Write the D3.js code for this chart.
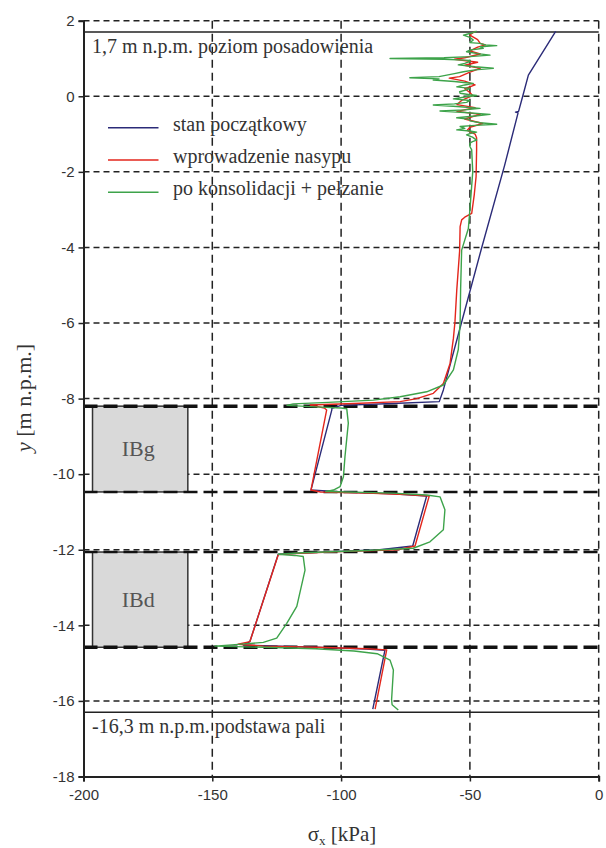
<!DOCTYPE html>
<html><head><meta charset="utf-8">
<script src="https://cdn.jsdelivr.net/npm/d3@7"></script>
<style>
html,body{margin:0;padding:0;background:#fff;}
svg{display:block;}
</style></head>
<body>
<svg id="chart" width="606" height="848"></svg>
<script>
// ---- data ----
const xTicks = [-200, -150, -100, -50, 0];
const yTicks = [2, 0, -2, -4, -6, -8, -10, -12, -14, -16, -18];
const seriesNames = ["stan początkowy", "wprowadzenie nasypu", "po konsolidacji + pełzanie"];
const seriesColors = ["#2b2b78", "#e3261c", "#3da34a"];
const foundationLevel = 1.7;
const pileBaseLevel = -16.3;
const layerBounds = [-8.2, -10.47, -12.06, -14.58];
const layerBoundWidth = [3.5, 2.5, 2.5, 3.5];
const layerNames = ["IBg", "IBd"];
const layerTop = [-8.2, -12.06];
const layerBottom = [-10.47, -14.58];
const layerBoxSigma = [-196.5, -159.5];

// [depth (m n.p.m.), sigma_x (kPa)]
const blueData = [
  [1.72,-16.7],[0.56,-27.3],[0.0,-29.5],[-0.40,-31.1],[-0.42,-32.3],[-0.44,-31.3],
  [-1.82,-36.5],[-4.0,-45.4],[-6.0,-53.3],[-7.77,-60.3],[-8.08,-61.9],
  [-8.13,-80],[-8.18,-100],[-8.26,-103.6],[-8.3,-103.6],[-10.42,-111.7],
  [-10.47,-100],[-10.52,-80],[-10.58,-66.8],[-11.9,-72.2],[-12.0,-85],[-12.07,-110],
  [-12.12,-124.4],[-14.43,-135.4],[-14.52,-138],[-14.58,-110],[-14.63,-90],
  [-14.66,-83.0],[-16.22,-87.7]
];
const redData = [
  [1.72,-48],[1.62,-50],[1.50,-47],[1.40,-46],[1.36,-44],[1.30,-47],[1.20,-50],
  [1.12,-46],[1.02,-52],[0.98,-56],[0.90,-47],[0.82,-52],[0.74,-46],[0.64,-50],
  [0.52,-54],[0.48,-58],[0.40,-52],[0.30,-48],[0.20,-52],[0.10,-50],[0.02,-49],
  [-0.10,-53],[-0.22,-55],[-0.30,-48],[-0.40,-55],[-0.48,-46],[-0.60,-52],
  [-0.72,-45],[-0.82,-50],[-0.90,-51],[-1.0,-48],[-1.1,-47.4],[-1.42,-47.4],
  [-2.13,-47.6],[-2.6,-48.3],[-3.1,-49.3],[-3.2,-52],[-3.27,-53.2],[-3.45,-53.8],
  [-4.1,-54.0],[-5.13,-55.1],[-5.97,-55.8],[-6.4,-56.4],[-7.07,-57.7],[-7.6,-60.3],
  [-7.86,-64.2],[-8.0,-70.6],[-8.08,-77.1],[-8.13,-95],[-8.17,-112],[-8.2,-110],
  [-8.25,-106.5],[-8.3,-105.6],[-10.42,-111.7],[-10.47,-108],[-10.5,-90],
  [-10.54,-75],[-10.58,-65.8],[-11.9,-71.3],[-12.0,-78],[-12.05,-100],[-12.1,-118],
  [-12.13,-124.4],[-14.43,-135.4],[-14.5,-140],[-14.55,-130],[-14.58,-110],
  [-14.62,-90],[-14.65,-82.3],[-16.22,-86.8]
];
const greenData = [
  [1.72,-47.4],[1.66,-50],[1.62,-52.5],[1.56,-50],[1.49,-48.7],[1.42,-50],[1.40,-46.1],
  [1.36,-44],[1.34,-39.6],[1.31,-46],[1.27,-44.8],[1.22,-50],[1.18,-51.3],[1.13,-47],
  [1.09,-42.2],[1.05,-50],[1.02,-60],[1.00,-81],[0.98,-60],[0.95,-50],[0.92,-50],
  [0.87,-52],[0.83,-54.5],[0.78,-48],[0.74,-40.9],[0.70,-48],[0.65,-52.5],[0.60,-56],
  [0.56,-59],[0.52,-62],[0.49,-73.3],[0.46,-62],[0.43,-64.2],[0.39,-56],[0.34,-48.7],
  [0.30,-52],[0.25,-55.1],[0.21,-50],[0.17,-51.3],[0.12,-54],[0.08,-53.8],[0.04,-50],
  [0.02,-47.4],[-0.02,-52],[-0.07,-56.4],[-0.11,-50],[-0.16,-51.3],[-0.20,-56],
  [-0.23,-64.2],[-0.27,-55],[-0.32,-46.1],[-0.36,-52],[-0.39,-61.6],[-0.43,-52],
  [-0.48,-42.2],[-0.52,-48],[-0.57,-55.1],[-0.61,-50],[-0.65,-50],[-0.70,-46],
  [-0.74,-39.6],[-0.77,-48],[-0.80,-53.8],[-0.85,-52],[-0.89,-55.1],[-0.92,-50],
  [-0.95,-47.4],[-0.99,-50],[-1.02,-51.3],[-1.08,-49],[-1.16,-47.4],[-1.20,-49],
  [-1.24,-50],[-1.33,-50],[-1.42,-49.3],[-2.0,-48.9],[-3.0,-50],[-3.5,-50.6],
  [-4.07,-53.2],[-5.1,-53.6],[-6.0,-53.8],[-6.7,-54.5],[-7.24,-56.4],[-7.64,-60.3],
  [-7.82,-66.8],[-7.95,-77.1],[-8.04,-87.5],[-8.1,-105],[-8.14,-118.6],[-8.18,-121],
  [-8.22,-110],[-8.25,-100],[-8.27,-97.8],[-8.65,-97.2],[-9.54,-98.5],[-10.07,-99.1],
  [-10.33,-100.4],[-10.42,-103],[-10.46,-106],[-10.5,-80],[-10.55,-66.8],[-10.6,-61.6],
  [-10.94,-59.7],[-11.47,-60.3],[-11.79,-65.5],[-11.96,-72],[-12.02,-90],[-12.08,-115],
  [-12.12,-124.4],[-12.15,-118],[-12.18,-114.7],[-12.54,-114],[-13.5,-117.2],
  [-13.95,-121.1],[-14.34,-125],[-14.45,-130.2],[-14.49,-137.3],[-14.55,-149],
  [-14.58,-130],[-14.62,-110],[-14.68,-95],[-14.75,-86],[-14.92,-81],[-15.18,-79.7],
  [-15.97,-80.4],[-16.1,-80.2],[-16.24,-77.8]
];
const seriesData = [blueData, redData, greenData];

// ---- drawing ----
const svg = d3.select("#chart");
const x = d3.scaleLinear().domain([-200, 0]).range([83.5, 598.7]);
const y = d3.scaleLinear().domain([-18, 2]).range([776.5, 20.7]);
const serif = "'Liberation Serif','Times New Roman',serif";
const sans = "'Liberation Sans',Arial,sans-serif";
const textCol = "#333";

// grid
const g = svg.append("g");
g.selectAll(".hg").data(yTicks.filter(d => d > -18)).join("line")
  .attr("x1", x(-200)).attr("x2", x(0))
  .attr("y1", d => y(d)).attr("y2", d => y(d))
  .attr("stroke", "#222").attr("stroke-width", 1.5).attr("stroke-dasharray", "6,4");
g.selectAll(".vg").data(xTicks.filter(d => d > -200)).join("line")
  .attr("x1", d => x(d)).attr("x2", d => x(d))
  .attr("y1", y(2)).attr("y2", y(-18))
  .attr("stroke", "#222").attr("stroke-width", 1.5).attr("stroke-dasharray", "8,5");

// layer boxes
layerNames.forEach((name, i) => {
  svg.append("rect")
    .attr("x", x(layerBoxSigma[0])).attr("y", y(layerTop[i]))
    .attr("width", x(layerBoxSigma[1]) - x(layerBoxSigma[0]))
    .attr("height", y(layerBottom[i]) - y(layerTop[i]))
    .attr("fill", "#d9d9d9").attr("stroke", "#333").attr("stroke-width", 1.5);
  svg.append("text")
    .attr("x", x((layerBoxSigma[0] + layerBoxSigma[1]) / 2) - 2)
    .attr("y", (y(layerTop[i]) + y(layerBottom[i])) / 2 + 7)
    .attr("text-anchor", "middle").attr("font-family", serif).attr("font-size", 22)
    .attr("fill", "#555").text(name);
});

// layer boundaries
svg.selectAll(".lb").data(layerBounds).join("line")
  .attr("x1", x(-200)).attr("x2", x(0))
  .attr("y1", d => y(d)).attr("y2", d => y(d))
  .attr("stroke", "#111").attr("stroke-width", (d, i) => layerBoundWidth[i])
  .attr("stroke-dasharray", "14,6");

// solid reference lines
[foundationLevel, pileBaseLevel].forEach(v => {
  svg.append("line").attr("x1", x(-200)).attr("x2", x(0))
    .attr("y1", y(v)).attr("y2", y(v)).attr("stroke", "#222").attr("stroke-width", 1.5);
});
svg.append("text").attr("x", 92).attr("y", y(foundationLevel) + 21)
  .attr("font-family", serif).attr("font-size", 20).attr("fill", textCol)
  .text("1,7 m n.p.m. poziom posadowienia");
svg.append("text").attr("x", 92).attr("y", y(pileBaseLevel) + 21)
  .attr("font-family", serif).attr("font-size", 20).attr("fill", textCol)
  .text("-16,3 m n.p.m. podstawa pali");

// series
const line = d3.line().x(d => x(d[1])).y(d => y(d[0]));
seriesData.forEach((data, i) => {
  svg.append("path").datum(data).attr("d", line)
    .attr("fill", "none").attr("stroke", seriesColors[i])
    .attr("stroke-width", 1.4).attr("stroke-linejoin", "round");
});

// axes
const xAxis = d3.axisBottom(x).tickValues(xTicks).tickSize(5).tickFormat(d => String(d));
const yAxis = d3.axisLeft(y).tickValues(yTicks).tickSize(5).tickFormat(d => String(d));
const gx = svg.append("g").attr("transform", `translate(0,${y(-18)})`).call(xAxis);
const gy = svg.append("g").attr("transform", `translate(${x(-200)},0)`).call(yAxis);
[gx, gy].forEach(ax => {
  ax.select(".domain").attr("stroke", "#222").attr("stroke-width", 2);
  ax.selectAll(".tick line").attr("stroke", "#222").attr("stroke-width", 1.5);
  ax.selectAll("text").attr("font-family", sans).attr("font-size", 15).attr("fill", textCol);
});
gx.selectAll(".tick text").attr("dy", "1.05em");
gy.selectAll(".tick text").attr("x", -9);

// axis titles
const yt = svg.append("text").attr("transform", "translate(31,398) rotate(-90)")
  .attr("text-anchor", "middle").attr("font-family", serif).attr("font-size", 22).attr("fill", textCol);
yt.append("tspan").attr("font-style", "italic").text("y");
yt.append("tspan").text(" [m n.p.m.]");
const xt = svg.append("text").attr("x", 342).attr("y", 841)
  .attr("text-anchor", "middle").attr("font-family", serif).attr("font-size", 21).attr("fill", textCol);
xt.append("tspan").text("σ");
xt.append("tspan").attr("font-size", 13).attr("dy", 4).text("x");
xt.append("tspan").attr("dy", -4).text(" [kPa]");

// legend
const legY = [127.7, 160, 192.3];
seriesNames.forEach((name, i) => {
  svg.append("line").attr("x1", 108).attr("x2", 158.5)
    .attr("y1", legY[i]).attr("y2", legY[i])
    .attr("stroke", seriesColors[i]).attr("stroke-width", 1.4);
  svg.append("text").attr("x", 173).attr("y", legY[i] + 3)
    .attr("font-family", serif).attr("font-size", 20).attr("fill", textCol)
    .text(name);
});
</script>
</body></html>
